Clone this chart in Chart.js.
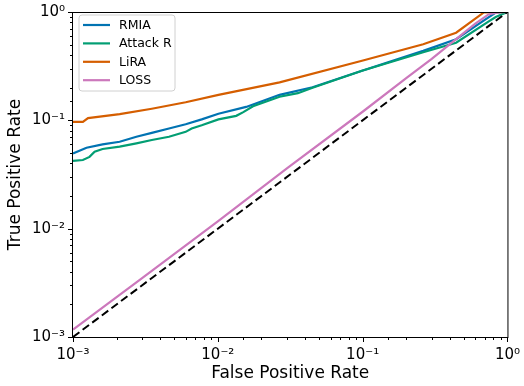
<!DOCTYPE html>
<html>
<head>
<meta charset="utf-8">
<script src="https://cdn.jsdelivr.net/npm/chart.js@4/dist/chart.umd.min.js"></script>
<style>
  html, body { margin: 0; padding: 0; background: #fff; }
  #wrap { width: 524px; height: 386px; }
</style>
</head>
<body>
<div id="wrap"><canvas id="rocChart" width="524" height="386"></canvas></div>
<script>
// series names (legend order) and colours
const seriesNames = ['RMIA', 'Attack R', 'LiRA', 'LOSS'];
const seriesColors = ['#0173b2', '#029e73', '#d55e00', '#cc78bc'];

// (FPR, TPR)
const rmiaFpr = [0.001, 0.00124, 0.0016, 0.0021, 0.00274, 0.0035, 0.0046, 0.006, 0.00774, 0.0101, 0.0157, 0.0267, 0.0451, 0.099, 0.262, 0.442, 0.673, 0.83, 1];
const rmiaTpr = [0.0495, 0.0558, 0.060, 0.0634, 0.0705, 0.0767, 0.084, 0.092, 0.102, 0.115, 0.133, 0.172, 0.202, 0.287, 0.438, 0.56, 0.82, 0.99, 1];

const attackFpr = [0.001, 0.00117, 0.0013, 0.00141, 0.0016, 0.0021, 0.00274, 0.0035, 0.0046, 0.006, 0.0066, 0.00774, 0.0101, 0.0134, 0.015, 0.0175, 0.0267, 0.0357, 0.0451, 0.099, 0.262, 0.442, 0.743, 0.83, 1];
const attackTpr = [0.0423, 0.043, 0.046, 0.0514, 0.0544, 0.0572, 0.0613, 0.0658, 0.0705, 0.0783, 0.084, 0.090, 0.102, 0.11, 0.119, 0.135, 0.165, 0.178, 0.200, 0.287, 0.425, 0.52, 0.82, 0.90, 1];

const liraFpr = [0.001, 0.00117, 0.00127, 0.0021, 0.0035, 0.006, 0.0101, 0.0267, 0.099, 0.262, 0.442, 0.687, 1];
const liraTpr = [0.0966, 0.0966, 0.105, 0.114, 0.128, 0.147, 0.172, 0.224, 0.355, 0.504, 0.644, 0.99, 1];

const lossFpr = [0.001, 0.003, 0.01, 0.03, 0.1, 0.2, 0.3, 0.44, 0.6, 0.74, 0.85, 1];
const lossTpr = [0.00117, 0.0035, 0.0117, 0.036, 0.12, 0.245, 0.37, 0.56, 0.78, 0.95, 0.99, 1];

const chanceFpr = [0.001, 1];
const chanceTpr = [0.001, 1];

// tick labels for the decades
const tickPowers = [-3, -2, -1, 0];
const tickLabels = ['10\u207B\u00B3', '10\u207B\u00B2', '10\u207B\u00B9', '10\u2070'];

const FONT = 'DejaVu Sans';

function toPoints(xs, ys) {
    return xs.map((x, i) => ({ x: x, y: ys[i] }));
}

function decadeLabel(v) {
    const p = Math.log10(v);
    const r = Math.round(p);
    if (Math.abs(p - r) > 1e-6) return '';
    const i = tickPowers.indexOf(r);
    return i >= 0 ? tickLabels[i] : '';
}

// frame, tick marks and legend box like matplotlib
const framePlugin = {
    id: 'frame',
    afterDraw(chart) {
        const ctx = chart.ctx;
        const a = chart.chartArea;
        ctx.save();
        ctx.strokeStyle = '#000';
        ctx.lineWidth = 1;
        ctx.strokeRect(a.left - 0.5, a.top + 0.5, a.right - a.left + 1, a.bottom - a.top);

        const xs = chart.scales.x, ys = chart.scales.y;
        ctx.beginPath();
        xs.ticks.forEach(t => {
            const px = Math.round(xs.getPixelForValue(t.value)) + 0.5;
            const len = decadeLabel(t.value) ? 5 : 3;
            ctx.moveTo(px, a.bottom);
            ctx.lineTo(px, a.bottom + len);
        });
        ys.ticks.forEach(t => {
            const py = Math.round(ys.getPixelForValue(t.value)) + 0.5;
            const len = decadeLabel(t.value) ? 5 : 3;
            ctx.moveTo(a.left, py);
            ctx.lineTo(a.left - len, py);
        });
        ctx.stroke();

        // legend
        const bx = 79, by = 15, bw = 96, bh = 76, r = 3;
        ctx.beginPath();
        ctx.moveTo(bx + r, by);
        ctx.arcTo(bx + bw, by, bx + bw, by + bh, r);
        ctx.arcTo(bx + bw, by + bh, bx, by + bh, r);
        ctx.arcTo(bx, by + bh, bx, by, r);
        ctx.arcTo(bx, by, bx + bw, by, r);
        ctx.closePath();
        ctx.fillStyle = 'rgba(255,255,255,0.8)';
        ctx.fill();
        ctx.strokeStyle = '#d0d0d0';
        ctx.stroke();

        ctx.font = '12.5px "' + FONT + '"';
        ctx.textBaseline = 'middle';
        ctx.textAlign = 'left';
        seriesNames.forEach((name, i) => {
            const y = 25 + i * 18.4;
            ctx.strokeStyle = seriesColors[i];
            ctx.lineWidth = 2.2;
            ctx.beginPath();
            ctx.moveTo(83, y);
            ctx.lineTo(110, y);
            ctx.stroke();
            ctx.fillStyle = '#000';
            ctx.fillText(name, 119, y + 0.5);
        });
        ctx.restore();
    }
};

const seriesData = [
    toPoints(rmiaFpr, rmiaTpr),
    toPoints(attackFpr, attackTpr),
    toPoints(liraFpr, liraTpr),
    toPoints(lossFpr, lossTpr)
];

const datasets = seriesNames.map((name, i) => ({
    label: name,
    data: seriesData[i],
    borderColor: seriesColors[i],
    backgroundColor: seriesColors[i],
    borderWidth: 2.2,
    pointRadius: 0,
    tension: 0,
    order: 5 - i
}));
datasets.push({
    label: 'chance',
    data: toPoints(chanceFpr, chanceTpr),
    borderColor: '#000',
    borderWidth: 2,
    borderDash: [8, 4],
    pointRadius: 0,
    order: 0
});

const ctx = document.getElementById('rocChart').getContext('2d');
const rocChart = new Chart(ctx, {
    type: 'line',
    data: { datasets: datasets },
    plugins: [framePlugin],
    options: {
        responsive: false,
        animation: false,
        events: [],
        layout: { padding: { top: 9, right: 12, left: 0, bottom: 0 } },
        plugins: {
            legend: { display: false },
            tooltip: { enabled: false }
        },
        scales: {
            x: {
                type: 'logarithmic',
                min: 0.001,
                max: 1,
                grid: { drawOnChartArea: false, drawTicks: true, tickLength: 5, tickColor: 'transparent' },
                border: { display: false },
                ticks: {
                    autoSkip: false,
                    maxRotation: 0,
                    padding: 4,
                    color: '#000',
                    font: { family: FONT, size: 15 },
                    callback: v => decadeLabel(v)
                },
                title: {
                    display: true,
                    text: 'False Positive Rate',
                    color: '#000',
                    font: { family: FONT, size: 17 },
                    padding: { top: 0, bottom: 2 }
                },
                afterFit: s => { s.height = 49; }
            },
            y: {
                type: 'logarithmic',
                min: 0.001,
                max: 1,
                grid: { drawOnChartArea: false, drawTicks: true, tickLength: 5, tickColor: 'transparent' },
                border: { display: false },
                ticks: {
                    autoSkip: false,
                    padding: 3,
                    color: '#000',
                    font: { family: FONT, size: 15 },
                    callback: v => decadeLabel(v)
                },
                title: {
                    display: true,
                    text: 'True Positive Rate',
                    color: '#000',
                    font: { family: FONT, size: 17 },
                    padding: { top: 5, bottom: 0 }
                },
                afterFit: s => { s.width = 73; }
            }
        }
    }
});
</script>
</body>
</html>
